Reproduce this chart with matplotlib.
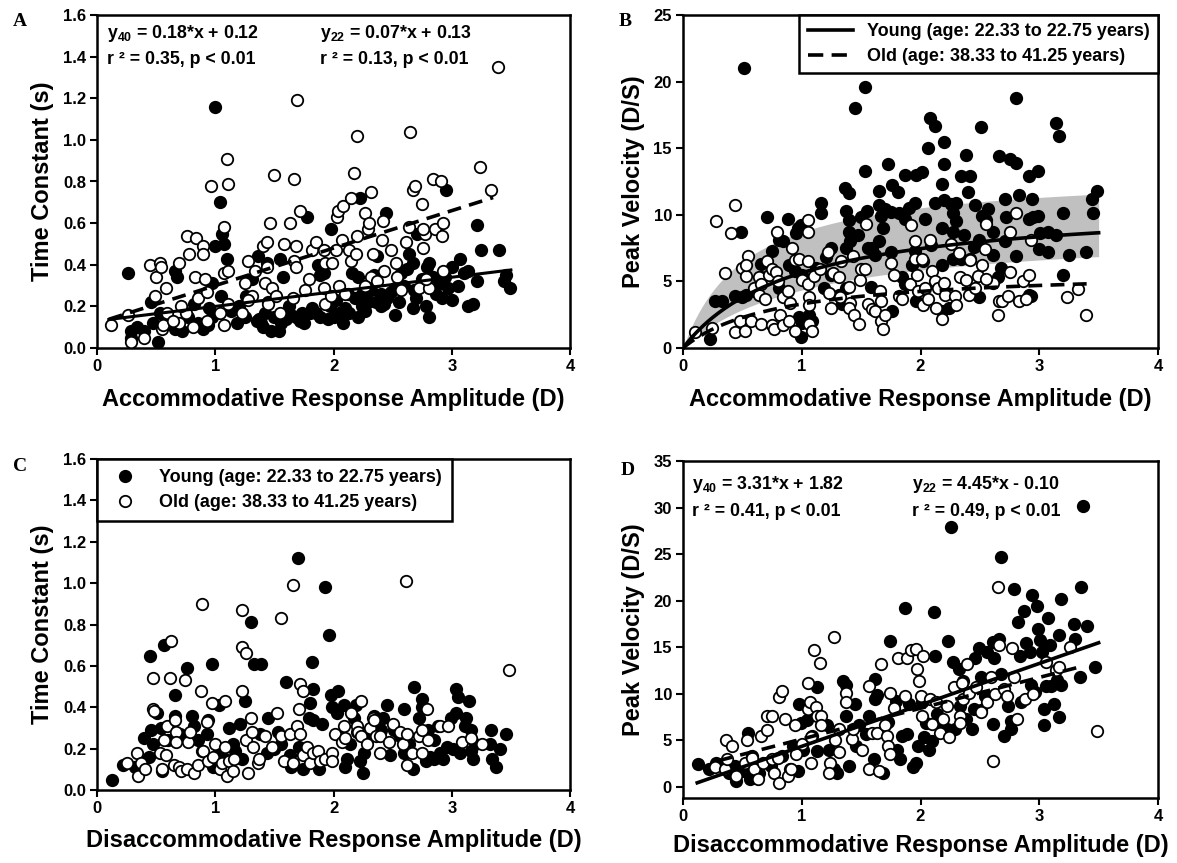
import numpy as np
import matplotlib
matplotlib.use("Agg")
import matplotlib.pyplot as plt
from matplotlib.lines import Line2D

plt.rcParams['font.family'] = ['Liberation Sans', 'DejaVu Sans']
plt.rcParams['font.weight'] = 'bold'
plt.rcParams['mathtext.fontset'] = 'custom'
plt.rcParams['mathtext.bf'] = 'Liberation Sans:bold'
plt.rcParams['mathtext.rm'] = 'Liberation Sans:bold'
plt.rcParams['lines.scale_dashes'] = False

# ---------------- data (x, y) ----------------
# Panel A: accommodation, time constant (s)
A_young = [(0.26,0.36),(0.29,0.08),(0.34,0.10),(0.29,0.05),(0.47,0.12),(0.52,0.03),(0.46,0.22),(0.53,0.17),
           (0.66,0.37),(0.68,0.34),(0.72,0.08),(0.66,0.09),(0.77,0.15),(0.82,0.21),(0.90,0.09),(0.94,0.11),
           (0.97,0.31),(1.00,1.16),(1.00,0.49),(1.04,0.70),(1.06,0.55),(1.07,0.50),(1.10,0.43),(1.05,0.25),
           (0.97,0.15),(1.18,0.12),(1.13,0.18),(1.26,0.25),(1.31,0.33),(1.36,0.44),(1.37,0.14),(1.39,0.12),
           (1.42,0.17),(1.44,0.41),(1.47,0.08),(1.54,0.08),(1.55,0.43),(1.57,0.34),(1.56,0.12),(1.64,0.16),
           (1.72,0.13),(1.73,0.17),(1.78,0.63),(1.80,0.17),(1.85,0.17),(1.89,0.15),(1.87,0.40),(1.89,0.35),
           (1.92,0.36),(1.98,0.57),(2.02,0.23),(2.05,0.17),(2.08,0.12),(2.12,0.26),(2.13,0.17),(2.16,0.36),
           (2.21,0.34),(2.22,0.72),(2.24,0.20),(2.21,0.15),(2.29,0.22),(2.34,0.35),(2.36,0.22),(2.40,0.20),
           (2.43,0.21),(2.37,0.44),(2.44,0.65),(2.52,0.16),(2.52,0.29),(2.49,0.27),(2.57,0.36),(2.62,0.38),
           (2.64,0.45),(2.67,0.41),(2.67,0.19),(2.68,0.28),(2.71,0.55),(2.78,0.20),(2.81,0.15),(2.81,0.41),
           (2.84,0.34),(2.87,0.26),(2.94,0.34),(2.95,0.76),(2.97,0.29),(3.00,0.39),(3.07,0.43),(3.00,0.23),
           (3.14,0.37),(3.14,0.20),(3.18,0.21),(3.21,0.32),(3.21,0.59),(3.25,0.47),(3.40,0.47),(3.46,0.35),
           (3.44,0.32),(3.49,0.29),(2.79,0.39),(2.40,0.26),(2.24,0.26),(1.35,0.13),(1.40,0.10),(1.50,0.15),
           (1.60,0.14),(1.62,0.20),(1.68,0.15),(1.75,0.12),(1.82,0.19),(1.95,0.14),(1.97,0.20),(2.00,0.15),
           (2.10,0.19),(2.18,0.24),(2.27,0.18),(2.32,0.28),(2.45,0.24),(2.55,0.22),(2.60,0.30),(2.70,0.24),
           (2.75,0.33),(2.90,0.31),(2.92,0.24),(3.05,0.30),(3.10,0.36),(1.20,0.20),(1.45,0.22),(1.25,0.15),
           (0.95,0.19),(0.85,0.12),(0.60,0.14),(0.40,0.08)]
A_old = [(0.12,0.11),(0.26,0.16),(0.29,0.03),(0.40,0.05),(0.45,0.40),(0.50,0.34),(0.53,0.41),(0.54,0.39),
         (0.49,0.25),(0.55,0.09),(0.56,0.11),(0.58,0.29),(0.59,0.17),(0.69,0.41),(0.76,0.54),(0.78,0.45),
         (0.84,0.53),(0.90,0.49),(0.90,0.45),(0.96,0.78),(1.10,0.91),(1.11,0.79),(1.07,0.58),(1.07,0.36),
         (1.11,0.37),(1.11,0.21),(0.83,0.34),(0.85,0.24),(0.91,0.33),(0.93,0.27),(0.75,0.17),(0.71,0.20),
         (0.69,0.12),(0.64,0.13),(0.81,0.10),(0.93,0.13),(1.04,0.17),(1.07,0.11),(1.23,0.17),(1.25,0.31),
         (1.28,0.42),(1.34,0.37),(1.31,0.25),(1.28,0.23),(1.40,0.49),(1.44,0.51),(1.46,0.60),(1.42,0.31),
         (1.44,0.39),(1.45,0.21),(1.48,0.29),(1.51,0.25),(1.55,0.17),(1.50,0.83),(1.58,0.50),(1.63,0.60),
         (1.67,0.81),(1.69,1.19),(1.68,0.49),(1.67,0.42),(1.68,0.39),(1.66,0.24),(1.72,0.66),(1.76,0.28),
         (1.79,0.33),(1.82,0.47),(1.85,0.51),(1.92,0.47),(1.93,0.41),(1.92,0.29),(1.93,0.21),(1.98,0.25),
         (1.99,0.41),(2.02,0.47),(2.03,0.63),(2.04,0.66),(2.07,0.52),(2.08,0.68),(2.05,0.30),(2.10,0.26),
         (2.13,0.47),(2.15,0.42),(2.19,0.45),(2.20,0.54),(2.15,0.72),(2.17,0.84),(2.20,1.02),(2.27,0.65),
         (2.29,0.57),(2.30,0.60),(2.32,0.75),(2.33,0.45),(2.32,0.34),(2.37,0.32),(2.27,0.30),(2.41,0.52),
         (2.42,0.61),(2.43,0.37),(2.49,0.47),(2.53,0.41),(2.54,0.34),(2.57,0.28),(2.61,0.51),(2.64,0.58),
         (2.65,1.04),(2.67,0.76),(2.69,0.78),(2.72,0.29),(2.75,0.69),(2.76,0.48),(2.77,0.55),(2.76,0.57),
         (2.81,0.29),(2.84,0.81),(2.91,0.80),(2.86,0.57),(2.92,0.54),(2.93,0.60),(2.93,0.37),(3.24,0.87),
         (3.33,0.76),(3.39,1.35),(2.78,0.33)]
A_slope_old, A_int_old = 0.18, 0.12        # y40 (dashed)
A_slope_young, A_int_young = 0.07, 0.13    # y22 (solid)

# Panel B: accommodation, peak velocity (D/s)
B_young = [(0.51,21.0),(0.23,0.7),(0.27,3.5),(0.33,3.5),(0.44,3.9),(0.49,8.7),(0.53,4.0),(0.71,9.8),
           (0.75,7.3),(0.81,8.1),(0.84,8.0),(0.88,9.7),(0.89,6.2),(0.95,8.6),(0.97,9.0),(0.99,9.2),
           (0.99,0.8),(0.98,2.3),(1.00,5.5),(1.06,2.5),(1.16,10.9),(1.16,10.1),(1.36,12.0),(1.40,11.6),
           (1.37,10.3),(1.40,9.6),(1.40,8.7),(1.41,8.0),(1.45,18.0),(1.53,19.6),(1.53,13.3),(1.55,10.3),
           (1.56,7.5),(1.58,4.6),(1.65,11.8),(1.65,10.7),(1.67,9.9),(1.68,9.0),(1.73,13.8),(1.75,10.2),
           (1.76,12.2),(1.81,11.7),(1.82,10.1),(1.87,9.7),(1.87,13.0),(1.95,10.9),(1.96,13.0),(2.01,13.2),
           (2.04,9.7),(2.06,15.0),(2.08,17.3),(2.12,16.7),(2.18,12.3),(2.20,13.8),(2.20,15.5),(2.20,11.1),
           (2.26,10.8),(2.27,10.1),(2.30,10.9),(2.34,12.9),(2.38,14.5),(2.40,11.7),(2.42,12.9),(2.46,10.7),
           (2.51,16.6),(2.52,9.9),(2.57,10.4),(2.66,14.4),(2.71,11.2),(2.75,14.2),(2.80,13.9),(2.80,18.8),
           (2.83,11.5),(2.91,12.9),(2.94,11.2),(2.99,13.3),(2.99,9.9),(2.91,9.7),(3.14,16.9),(3.17,15.9),
           (3.20,10.1),(3.01,8.6),(3.07,8.7),(3.14,8.5),(3.07,7.2),(3.00,7.4),(3.25,7.0),(3.39,7.2),
           (3.45,10.1),(3.44,11.2),(3.49,11.8),(3.20,5.5),(2.80,6.9),(2.71,8.0),(2.61,8.7),(2.49,8.1),
           (2.37,8.5),(2.27,8.7),(2.18,9.0),(2.09,7.7),(2.02,6.5),(1.93,6.2),(1.84,5.3),(1.75,7.2),
           (1.65,8.0),(1.62,7.0),(1.59,7.5),(2.18,6.2),(2.27,6.7),(2.34,6.7),(2.42,6.7),(2.61,7.0),
           (2.68,6.0),(2.65,5.3),(2.91,4.0),(2.93,3.9),(2.49,3.8),(2.24,3.0),(2.18,2.8),(1.96,3.5),
           (1.87,4.8),(1.76,2.8),(1.37,4.5),(1.31,4.0),(1.34,3.3),(1.25,5.5),(1.19,4.5),(1.12,6.0),
           (0.94,5.8),(0.81,4.5),(0.66,5.3),(0.66,6.3),(0.60,4.3),(0.50,3.8),(1.09,2.0),(1.00,1.9),
           (1.25,7.5),(1.37,7.5),(1.47,8.5),(1.70,10.4),(1.90,10.5),(2.12,10.9),(2.30,9.5),(2.55,9.6),
           (2.72,9.8),(2.95,9.8),(1.50,9.8),(1.20,6.8),(1.95,7.3),(2.45,7.6)]
B_old = [(0.10,1.2),(0.24,1.5),(0.28,9.5),(0.35,5.6),(0.40,8.6),(0.44,10.7),(0.44,1.2),(0.48,2.0),
         (0.50,6.0),(0.53,5.4),(0.55,6.9),(0.53,6.2),(0.52,1.3),(0.57,2.0),(0.60,4.5),(0.64,4.0),
         (0.64,5.3),(0.66,4.8),(0.66,1.8),(0.69,3.7),(0.71,6.5),(0.72,5.5),(0.75,1.7),(0.77,1.4),
         (0.75,5.9),(0.78,5.7),(0.79,8.7),(0.80,5.0),(0.82,2.5),(0.84,3.8),(0.84,1.7),(0.88,4.3),
         (0.89,2.0),(0.90,3.4),(0.94,1.3),(0.92,7.5),(0.94,6.6),(0.98,6.7),(1.00,5.1),(1.05,9.6),
         (1.05,8.7),(1.05,6.5),(1.05,4.8),(1.06,3.8),(1.06,3.2),(1.06,1.8),(1.09,1.3),(1.10,5.4),
         (1.15,5.9),(1.22,7.2),(1.23,4.1),(1.25,3.0),(1.26,5.6),(1.31,5.3),(1.33,6.5),(1.32,3.8),
         (1.40,4.6),(1.41,3.4),(1.43,6.9),(1.40,3.0),(1.44,2.5),(1.48,1.8),(1.49,5.1),(1.50,5.9),
         (1.53,5.9),(1.54,9.3),(1.56,3.3),(1.59,2.9),(1.62,2.8),(1.66,4.3),(1.67,3.5),(1.67,2.0),
         (1.68,1.4),(1.70,2.5),(1.75,6.4),(1.78,5.5),(1.82,3.9),(1.84,3.7),(1.91,4.8),(1.92,9.2),
         (1.95,8.0),(1.95,6.7),(1.97,5.5),(1.98,4.3),(2.01,6.7),(2.02,3.2),(2.04,4.5),(2.06,3.7),
         (2.08,8.1),(2.10,5.8),(2.12,5.0),(2.13,3.0),(2.15,4.5),(2.18,2.2),(2.20,4.9),(2.21,4.0),
         (2.26,7.8),(2.29,3.9),(2.30,3.2),(2.32,7.1),(2.33,5.3),(2.38,5.1),(2.41,4.0),(2.42,6.6),
         (2.48,5.4),(2.52,6.2),(2.54,7.4),(2.55,9.3),(2.61,4.9),(2.65,2.5),(2.66,3.5),(2.69,3.5),
         (2.74,3.9),(2.75,5.7),(2.75,8.7),(2.80,10.1),(2.83,3.5),(2.86,5.0),(2.91,5.5),(2.89,3.7),
         (2.93,8.1),(3.23,3.8),(3.33,4.4),(3.39,2.5),(2.55,5.2),(2.46,4.5)]
B_young_fit = (11.0, 0.95)    # y = a*x/(b+x)
B_old_fit = (5.95, 0.80)
B_band_upper = (13.29, 0.527)
B_band_lower = (8.92, 1.05)

# Panel C: disaccommodation, time constant (s)
C_young = [(0.13,0.05),(0.22,0.12),(0.32,0.11),(0.40,0.25),(0.44,0.16),(0.45,0.65),(0.46,0.29),(0.47,0.22),
           (0.51,0.37),(0.54,0.30),(0.57,0.70),(0.55,0.09),(0.60,0.24),(0.66,0.46),(0.66,0.36),(0.76,0.59),
           (0.80,0.36),(0.82,0.31),(0.85,0.24),(0.89,0.19),(0.93,0.27),(0.94,0.34),(0.97,0.61),(0.98,0.11),
           (1.03,0.19),(1.03,0.41),(1.08,0.15),(1.12,0.30),(1.17,0.19),(1.21,0.32),(1.23,0.15),(1.25,0.43),
           (1.30,0.81),(1.33,0.61),(1.39,0.61),(1.38,0.27),(1.44,0.18),(1.45,0.35),(1.53,0.28),(1.56,0.22),
           (1.60,0.52),(1.63,0.17),(1.64,0.11),(1.70,1.12),(1.71,0.21),(1.74,0.10),(1.77,0.19),(1.79,0.35),
           (1.80,0.42),(1.82,0.62),(1.83,0.49),(1.83,0.34),(1.88,0.10),(1.90,0.32),(1.93,0.98),(1.96,0.75),
           (1.98,0.46),(1.99,0.40),(2.03,0.37),(2.04,0.48),(2.06,0.26),(2.09,0.41),(2.10,0.11),(2.11,0.15),
           (2.14,0.22),(2.17,0.35),(2.19,0.41),(2.22,0.14),(2.25,0.08),(2.26,0.18),(2.29,0.25),(2.34,0.36),
           (2.40,0.29),(2.42,0.35),(2.45,0.41),(2.48,0.17),(2.51,0.29),(2.56,0.26),(2.60,0.18),(2.60,0.39),
           (2.64,0.22),(2.67,0.10),(2.68,0.50),(2.72,0.35),(2.75,0.44),(2.75,0.40),(2.78,0.14),(2.80,0.29),
           (2.82,0.16),(2.85,0.24),(2.88,0.31),(2.90,0.18),(2.93,0.15),(2.96,0.21),(2.99,0.35),(3.01,0.20),
           (3.04,0.37),(3.04,0.49),(3.05,0.45),(3.07,0.18),(3.12,0.35),(3.15,0.43),(3.16,0.19),(3.18,0.15),
           (3.16,0.29),(3.32,0.22),(3.33,0.29),(3.34,0.15),(3.37,0.11),(3.41,0.20),(3.46,0.27),(3.11,0.31),
           (0.70,0.27),(1.15,0.22),(1.50,0.20),(2.20,0.28),(2.85,0.15),(3.20,0.22)]
C_old = [(0.25,0.13),(0.34,0.18),(0.35,0.07),(0.37,0.13),(0.41,0.10),(0.47,0.54),(0.47,0.39),(0.48,0.38),
         (0.53,0.18),(0.55,0.10),(0.57,0.24),(0.58,0.17),(0.59,0.31),(0.63,0.72),(0.62,0.54),(0.65,0.12),
         (0.66,0.34),(0.67,0.28),(0.67,0.23),(0.69,0.11),(0.71,0.09),(0.74,0.53),(0.76,0.10),(0.77,0.23),
         (0.79,0.28),(0.82,0.08),(0.85,0.12),(0.88,0.48),(0.89,0.90),(0.90,0.19),(0.93,0.33),(0.94,0.14),
         (0.97,0.42),(0.98,0.16),(1.00,0.22),(1.04,0.10),(1.06,0.13),(1.08,0.43),(1.08,0.21),(1.10,0.07),
         (1.12,0.14),(1.15,0.09),(1.16,0.15),(1.23,0.87),(1.23,0.69),(1.26,0.66),(1.23,0.48),(1.26,0.24),
         (1.28,0.08),(1.30,0.35),(1.31,0.28),(1.32,0.21),(1.36,0.13),(1.37,0.15),(1.42,0.26),(1.48,0.21),
         (1.52,0.37),(1.56,0.83),(1.56,0.26),(1.58,0.14),(1.63,0.27),(1.66,0.13),(1.66,0.99),(1.69,0.31),
         (1.72,0.51),(1.71,0.39),(1.72,0.27),(1.74,0.48),(1.74,0.17),(1.78,0.21),(1.80,0.13),(1.83,0.18),
         (1.87,0.19),(1.89,0.14),(1.93,0.15),(1.99,0.18),(1.99,0.14),(2.01,0.27),(2.07,0.23),(2.09,0.31),
         (2.10,0.25),(2.15,0.37),(2.20,0.31),(2.21,0.28),(2.23,0.43),(2.23,0.26),(2.28,0.22),(2.31,0.30),
         (2.33,0.35),(2.34,0.34),(2.36,0.26),(2.39,0.26),(2.39,0.18),(2.47,0.23),(2.50,0.32),(2.56,0.28),
         (2.59,0.22),(2.61,1.01),(2.62,0.12),(2.62,0.27),(2.66,0.18),(2.72,0.26),(2.75,0.29),(2.75,0.18),
         (2.79,0.39),(2.80,0.24),(2.90,0.31),(2.97,0.31),(3.09,0.23),(3.16,0.25),(3.26,0.22),(3.48,0.58)]

# Panel D: disaccommodation, peak velocity (D/s)
D_young = [(0.13,2.4),(0.22,1.9),(0.28,2.6),(0.39,1.5),(0.44,2.2),(0.45,0.6),(0.51,1.7),(0.55,5.8),
           (0.56,0.8),(0.58,3.3),(0.64,1.5),(0.74,2.2),(0.83,3.3),(0.90,1.9),(0.93,4.4),(0.97,1.7),
           (0.98,8.9),(0.99,6.9),(1.01,4.0),(1.04,7.2),(1.09,5.5),(1.13,10.7),(1.13,3.9),(1.21,6.6),
           (1.23,4.0),(1.27,1.9),(1.30,1.5),(1.35,11.4),(1.37,10.9),(1.37,7.6),(1.40,2.2),(1.45,8.9),
           (1.46,4.4),(1.48,6.6),(1.54,5.7),(1.57,7.6),(1.61,3.0),(1.62,9.4),(1.62,11.6),(1.63,9.9),
           (1.68,1.5),(1.73,7.0),(1.74,15.7),(1.79,9.2),(1.80,4.0),(1.83,3.0),(1.84,5.5),(1.87,19.2),
           (1.89,5.7),(1.90,8.9),(1.94,2.1),(1.96,2.6),(1.98,4.4),(2.01,9.1),(2.03,5.3),(2.05,6.9),
           (2.07,4.0),(2.10,4.9),(2.11,18.8),(2.12,14.1),(2.14,7.8),(2.18,6.6),(2.23,15.7),(2.26,27.9),
           (2.27,13.4),(2.29,6.2),(2.32,12.7),(2.33,8.7),(2.36,11.4),(2.38,7.3),(2.43,6.2),(2.45,8.4),
           (2.46,13.8),(2.49,14.9),(2.51,11.8),(2.54,9.8),(2.56,14.5),(2.61,6.7),(2.62,13.8),(2.61,15.6),
           (2.66,15.9),(2.68,24.7),(2.68,12.1),(2.70,5.5),(2.74,8.7),(2.76,7.1),(2.76,6.2),(2.79,21.3),
           (2.82,17.7),(2.84,14.1),(2.85,9.1),(2.87,18.9),(2.89,15.4),(2.92,14.5),(2.93,10.9),(2.94,20.6),
           (2.98,19.4),(2.99,17.0),(3.01,15.8),(3.02,14.5),(3.04,8.4),(3.04,6.6),(3.06,10.8),(3.07,18.1),
           (3.09,15.2),(3.10,10.8),(3.12,8.9),(3.15,11.5),(3.17,16.3),(3.17,7.5),(3.18,20.2),(3.29,17.5),
           (3.30,15.9),(3.34,11.8),(3.35,21.5),(3.37,30.2),(3.40,17.3),(3.47,12.9),(3.18,10.9),(2.96,10.2),
           (2.51,8.2),(2.22,6.2)]
D_old = [(0.27,2.1),(0.35,1.9),(0.36,5.0),(0.41,4.4),(0.37,3.0),(0.45,1.2),(0.52,2.6),(0.54,5.0),
         (0.58,3.1),(0.60,1.9),(0.63,0.8),(0.66,5.5),(0.67,2.6),(0.71,6.1),(0.71,7.6),(0.75,7.6),
         (0.75,3.0),(0.77,1.5),(0.80,3.1),(0.81,0.4),(0.81,9.6),(0.83,10.3),(0.86,7.3),(0.88,1.2),
         (0.91,1.9),(0.94,6.6),(0.95,3.5),(1.00,4.6),(1.05,11.1),(1.05,8.4),(1.07,9.1),(1.08,2.6),
         (1.08,5.3),(1.10,14.7),(1.12,8.6),(1.13,7.6),(1.15,13.3),(1.16,7.6),(1.16,6.6),(1.24,2.6),
         (1.23,1.5),(1.27,16.1),(1.28,5.0),(1.31,6.2),(1.31,3.7),(1.37,10.1),(1.37,9.1),(1.42,5.1),
         (1.43,6.2),(1.51,4.0),(1.57,1.9),(1.57,10.8),(1.59,5.8),(1.63,5.8),(1.65,1.7),(1.67,13.2),
         (1.70,6.6),(1.72,5.5),(1.73,4.4),(1.74,10.1),(1.74,3.5),(1.78,8.5),(1.81,13.8),(1.87,9.8),
         (1.89,13.8),(1.92,14.7),(1.96,14.8),(1.97,12.7),(1.99,11.4),(2.00,9.8),(2.02,14.1),(2.01,7.6),
         (2.08,9.4),(2.10,6.7),(2.13,9.1),(2.16,5.8),(2.19,7.3),(2.22,8.7),(2.24,5.3),(2.28,10.7),
         (2.33,7.6),(2.33,6.9),(2.35,11.2),(2.36,9.4),(2.39,13.2),(2.41,10.1),(2.47,10.7),(2.51,8.0),
         (2.56,9.1),(2.59,11.8),(2.61,2.8),(2.63,10.0),(2.65,21.5),(2.66,15.2),(2.70,10.5),(2.73,9.8),
         (2.77,14.9),(2.79,11.8),(2.81,7.3),(2.88,9.4),(2.95,10.0),(3.06,13.4),(3.14,12.5),(3.17,12.9),
         (3.26,15.0),(3.49,6.0)]
D_slope_old, D_int_old = 3.31, 1.82
D_slope_young, D_int_young = 4.45, -0.10

legend_young = "Young (age: 22.33 to 22.75 years)"
legend_old = "Old (age: 38.33 to 41.25 years)"

# ---------------- figure ----------------
W, H = 1177, 863
fig = plt.figure(figsize=(W / 100, H / 100), dpi=100)

def rect(l, r, t, b):
    return [l / W, 1 - b / H, (r - l) / W, (b - t) / H]

axA = fig.add_axes(rect(97, 570, 15, 348))
axB = fig.add_axes(rect(683, 1158, 15, 348))
axC = fig.add_axes(rect(97, 570, 459, 790))
axD = fig.add_axes(rect(683, 1158, 461, 798))

MS = 68
LW_E = 1.3
DASH = (10, 6)
TXT = 12.8

def scat(ax, pts, filled):
    x, y = zip(*pts)
    ax.scatter(x, y, s=MS, facecolor='black' if filled else 'white', edgecolor='black',
               linewidths=LW_E, zorder=3, clip_on=False)

def style(ax, xlabel, ylabel, yticks, yfmt, ylim, xpad=9):
    ax.set_xlim(0, 4)
    ax.set_ylim(*ylim)
    ax.set_xticks([0, 1, 2, 3, 4])
    ax.set_yticks(yticks)
    ax.set_yticklabels([yfmt.format(v) for v in yticks])
    ax.tick_params(direction='out', length=5, width=1.5, labelsize=12, pad=3)
    for lab in ax.get_xticklabels() + ax.get_yticklabels():
        lab.set_fontweight('bold')
    for sp in ax.spines.values():
        sp.set_linewidth(1.8)
    ax.set_xlabel(xlabel, fontsize=17, fontweight='bold', labelpad=xpad)
    ax.set_ylabel(ylabel, fontsize=17, fontweight='bold', labelpad=6)

def eq(ax, x, y, sub, rest):
    ax.text(x, y, r'$\mathbf{y}_{\mathbf{' + sub + '}}$' + rest, transform=ax.transAxes,
            fontsize=TXT, fontweight='bold', va='center')

def rtxt(ax, x, y, s):
    ax.text(x, y, s, transform=ax.transAxes, fontsize=TXT, fontweight='bold', va='center')

# ---- A ----
scat(axA, A_young, True)
scat(axA, A_old, False)
xs = np.linspace(0.1, 3.5, 50)
axA.plot(xs, A_slope_young * xs + A_int_young, color='black', lw=2.2, zorder=4)
xs = np.linspace(0.1, 3.35, 50)
axA.plot(xs, A_slope_old * xs + A_int_old, color='black', lw=2.6, dashes=DASH, zorder=4)
style(axA, 'Accommodative Response Amplitude (D)', 'Time Constant (s)',
      np.round(np.arange(0, 1.61, 0.2), 1), '{:.1f}', (0, 1.6), xpad=10)
eq(axA, 0.021, 0.945, '40', ' = 0.18*x + 0.12')
rtxt(axA, 0.021, 0.865, 'r ² = 0.35, p < 0.01')
eq(axA, 0.471, 0.945, '22', ' = 0.07*x + 0.13')
rtxt(axA, 0.471, 0.865, 'r ² = 0.13, p < 0.01')

# ---- B ----
xs = np.linspace(0, 3.5, 200)
hyper = lambda p, x: p[0] * x / (p[1] + x)
axB.fill_between(xs, hyper(B_band_lower, xs), hyper(B_band_upper, xs), color='#c0c0c0',
                 lw=0, zorder=1)
scat(axB, B_young, True)
scat(axB, B_old, False)
axB.plot(xs, hyper(B_young_fit, xs), color='black', lw=2.6, zorder=4)
xo = np.linspace(0, 3.4, 200)
axB.plot(xo, hyper(B_old_fit, xo), color='black', lw=2.6, dashes=DASH, zorder=4)
style(axB, 'Accommodative Response Amplitude (D)', 'Peak Velocity (D/S)',
      [0, 5, 10, 15, 20, 25], '{:d}', (0, 25), xpad=10)
hB = [Line2D([], [], color='black', lw=2.6),
      Line2D([], [], color='black', lw=2.6, dashes=(11, 6))]
legB = axB.legend(hB, [legend_young, legend_old], loc='upper right', bbox_to_anchor=(1, 1),
                  borderaxespad=0, fancybox=False, framealpha=1, edgecolor='black',
                  prop={'size': 13, 'weight': 'bold'}, handlelength=2.5, handletextpad=0.8,
                  labelspacing=0.45, borderpad=0.45)
legB.get_frame().set_linewidth(1.8)
legB.set_zorder(6)

# ---- C ----
scat(axC, C_young, True)
scat(axC, C_old, False)
style(axC, 'Disaccommodative Response Amplitude (D)', 'Time Constant (s)',
      np.round(np.arange(0, 1.61, 0.2), 1), '{:.1f}', (0, 1.6), xpad=9)
hC = [Line2D([], [], ls='none', marker='o', markersize=8.2, markerfacecolor='black',
             markeredgecolor='black', markeredgewidth=LW_E),
      Line2D([], [], ls='none', marker='o', markersize=8.2, markerfacecolor='white',
             markeredgecolor='black', markeredgewidth=LW_E)]
legC = axC.legend(hC, [legend_young, legend_old], loc='upper left', bbox_to_anchor=(0, 1),
                  borderaxespad=0, fancybox=False, framealpha=1, edgecolor='black',
                  prop={'size': 13, 'weight': 'bold'}, handlelength=2.0, handletextpad=0.9,
                  labelspacing=0.45, borderpad=0.55)
legC.get_frame().set_linewidth(1.8)
legC.set_zorder(6)

# ---- D ----
scat(axD, D_young, True)
scat(axD, D_old, False)
xs = np.linspace(0.12, 3.5, 50)
axD.plot(xs, D_slope_young * xs + D_int_young, color='black', lw=2.6, zorder=4)
xs = np.linspace(0.3, 3.35, 50)
axD.plot(xs, D_slope_old * xs + D_int_old, color='black', lw=2.6, dashes=DASH, zorder=4)
style(axD, 'Disaccommodative Response Amplitude (D)', 'Peak Velocity (D/S)',
      [0, 5, 10, 15, 20, 25, 30, 35], '{:d}', (-1.2, 35), xpad=7)
eq(axD, 0.02, 0.93, '40', ' = 3.31*x + 1.82')
rtxt(axD, 0.02, 0.85, 'r ² = 0.41, p < 0.01')
eq(axD, 0.483, 0.93, '22', ' = 4.45*x - 0.10')
rtxt(axD, 0.483, 0.85, 'r ² = 0.49, p < 0.01')

# panel letters
for letter, (px, py) in zip('ABCD', [(20, 22), (625, 22), (20, 466), (628, 470)]):
    fig.text(px / W, 1 - py / H, letter, fontsize=14, fontweight='bold',
             family=['Liberation Serif', 'DejaVu Serif'], ha='center', va='center')

fig.savefig('out.png', dpi=100)
